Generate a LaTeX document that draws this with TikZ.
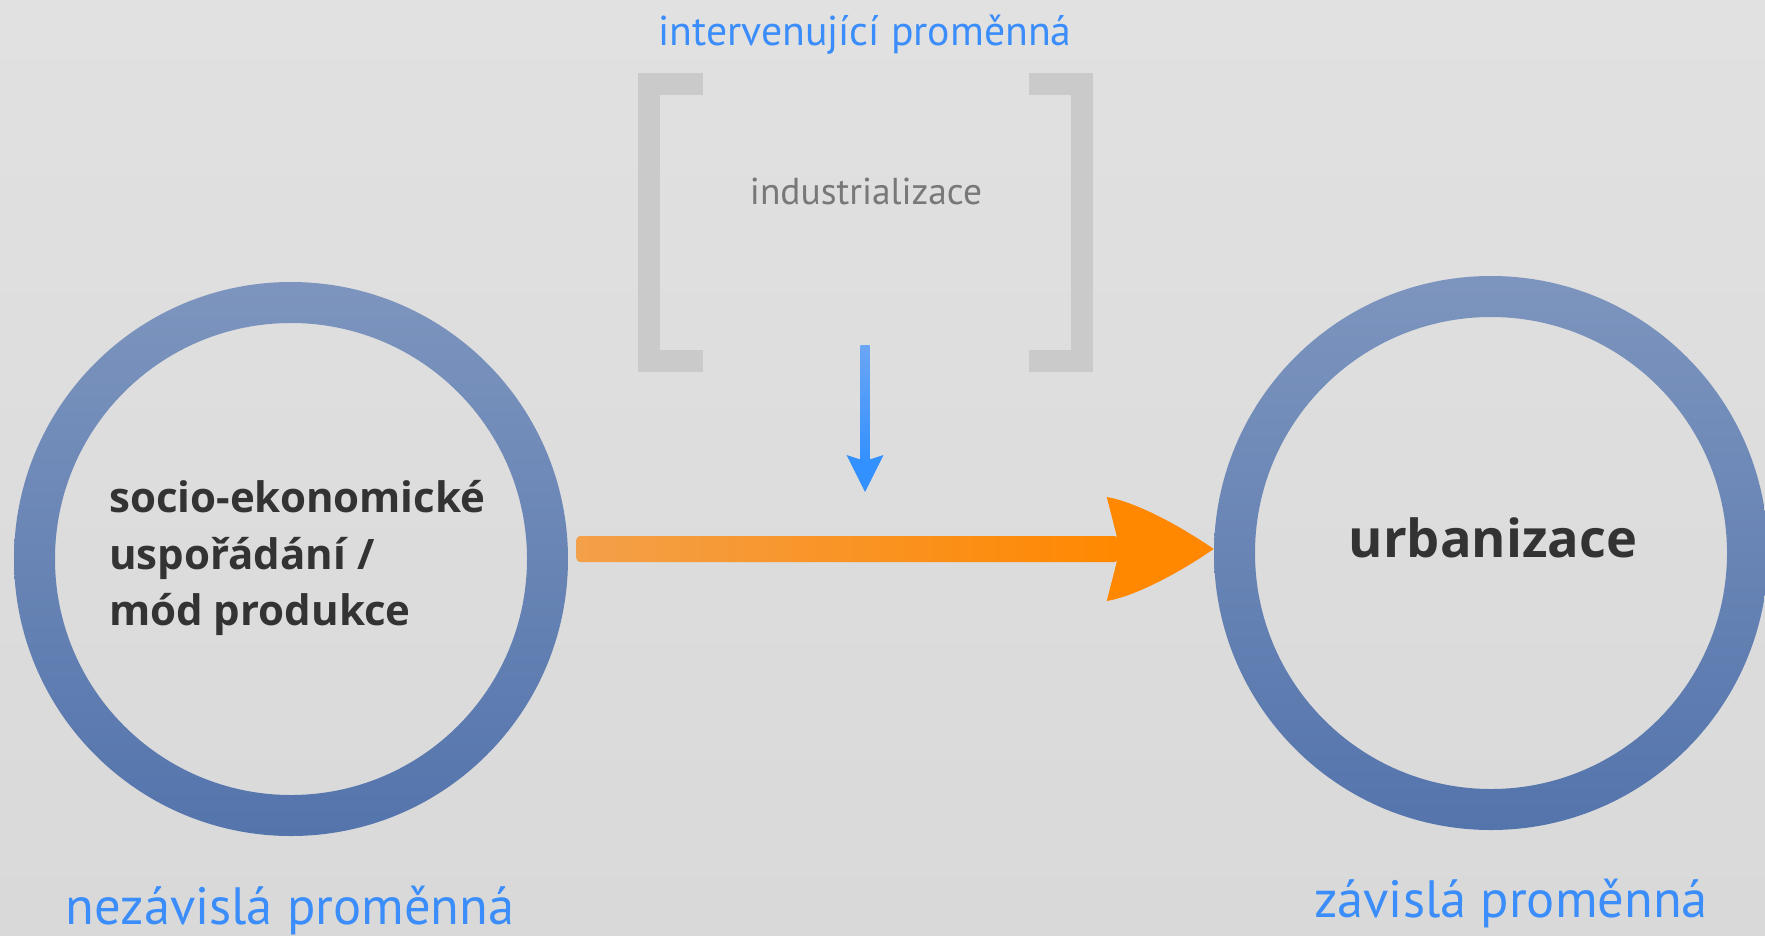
\documentclass[tikz,border=0pt]{standalone}
\usepackage{fontspec}
\newfontfamily\opensans{Open Sans}
\newfontfamily\ptsans{PT Sans}
\usetikzlibrary{calc}
\definecolor{bgtop}{HTML}{E1E1E1}
\definecolor{bgbottom}{HTML}{D9D9D9}
\definecolor{ringtop}{HTML}{7D95BE}
\definecolor{ringbottom}{HTML}{5474AC}
\definecolor{labelblue}{HTML}{3A8DFA}
\definecolor{darktext}{HTML}{333333}
\definecolor{graytext}{HTML}{787878}
\definecolor{bracketgray}{HTML}{CBCACA}
\definecolor{orangeleft}{HTML}{F3A04A}
\definecolor{orangeright}{HTML}{FF8800}
\definecolor{arrowblue}{HTML}{3390FF}
\definecolor{arrowbluelight}{HTML}{6BA6F4}
\begin{document}
\begin{tikzpicture}[x=0.75pt,y=0.75pt,yscale=-1,xscale=1,
  varcircle/.style={circle,minimum size=415.5pt,inner sep=0pt},
  ring/.style={top color=ringtop,bottom color=ringbottom,even odd rule},
  vartext/.style={text=darktext,anchor=base,inner sep=0pt},
  rolelabel/.style={text=labelblue,font=\ptsans\fontsize{39.4}{47}\selectfont,anchor=base},
  bracket/.style={draw=bracketgray,line width=16.5pt},
]
  \useasboundingbox (0,0) rectangle (1765,935);
  \shade[top color=bgtop,bottom color=bgbottom] (0,0) rectangle (1765,935);

  \node[varcircle] (socio) at (291,559) {};
  \node[varcircle] (urban) at (1491,553) {};
  \shade[ring] (socio.center) circle (277) (socio.center) circle (236);
  \shade[ring] (urban.center) circle (277) (urban.center) circle (236);

  \node[vartext,anchor=west,align=left,font=\opensans\bfseries\fontsize{31.5}{42.5}\selectfont] (sociotext) at (109,558) {socio-ekonomické\\uspořádání /\\mód produkce};
  \node[vartext,font=\opensans\bfseries\fontsize{39.3}{47}\selectfont] (urbantext) at (1493,557) {urbanizace};

  \node[rolelabel] (indep) at (290,924) {nezávislá proměnná};
  \node[rolelabel] (dep) at (1511,917) {závislá proměnná};
  \node[rolelabel,font=\ptsans\fontsize{31.3}{38}\selectfont] (interv) at (865,45) {intervenující proměnná};
  \node[text=graytext,anchor=base,font=\ptsans\fontsize{28.1}{34}\selectfont] (ind) at (866,204) {industrializace};

  \draw[bracket] (703,84) -- (649,84) -- (649,361) -- (703,361);
  \draw[bracket] (1029,84) -- (1082,84) -- (1082,361) -- (1029,361);

  \coordinate (indout) at (865,345);
  \coordinate (indin) at (865,492);
  \shade[top color=arrowbluelight,bottom color=arrowblue] ($(indout)+(-4.5,0)$) rectangle ($(indin)+(4.5,-30)$);
  \fill[arrowblue] ($(indin)+(-18.5,-37)$) -- ($(indin)+(0,-31)$) -- ($(indin)+(18.5,-37)$) -- (indin) -- cycle;

  \coordinate (tail) at ($(socio.east)+(8,-10)$);
  \coordinate (tip) at ($(urban.west)+(0,-4)$);
  \shade[left color=orangeleft,right color=orangeright,rounded corners=3pt] ($(tail)+(0,-13)$) rectangle ($(tip)+(-95,13)$);
  \fill[orangeright] ($(tip)+(-107,-52)$) -- ($(tip)+(-97,-13)$) -- ($(tip)+(-97,13)$) -- ($(tip)+(-107,52)$) .. controls ($(tip)+(-78,47)$) and ($(tip)+(-35,24)$) .. (tip) .. controls ($(tip)+(-35,-24)$) and ($(tip)+(-78,-47)$) .. cycle;
\end{tikzpicture}
\end{document}
